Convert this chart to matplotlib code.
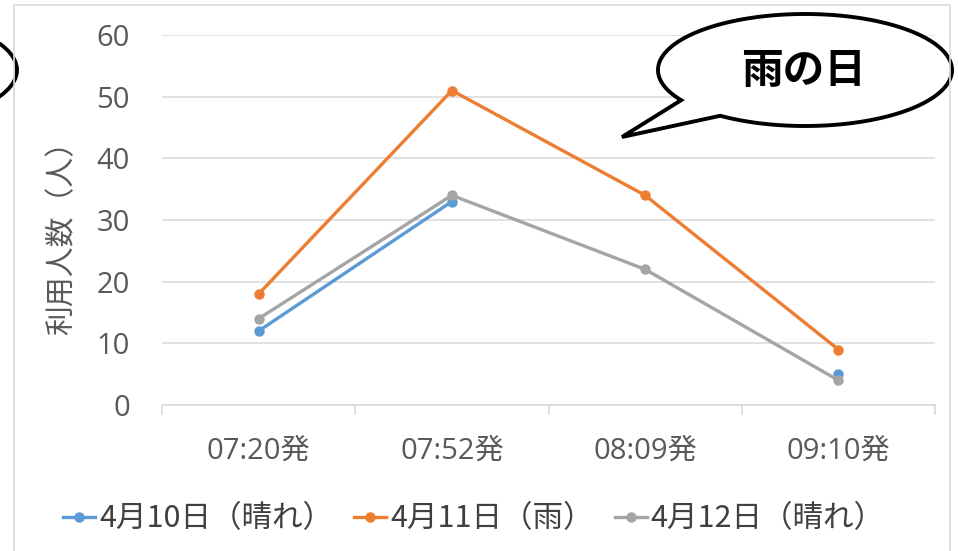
import numpy as np
import matplotlib
matplotlib.use("Agg")
import matplotlib.pyplot as plt
from matplotlib.patches import Polygon, Ellipse
from matplotlib.lines import Line2D

plt.rcParams["font.family"] = ["Open Sans", "Noto Sans CJK JP", "DejaVu Sans"]

TEXT_GRAY = "#595959"
GRID = "#d9d9d9"

categories = ["07:20発", "07:52発", "08:09発", "09:10発"]
series_names = ["4月10日（晴れ）", "4月11日（雨）", "4月12日（晴れ）"]
apr10 = [12, 33, np.nan, 5]   # no value at 08:09
apr11 = [18, 51, 34, 9]
apr12 = [14, 34, 22, 4]
colors = ["#5b9bd5", "#ed7d31", "#a5a5a5"]
y_ticks = [0, 10, 20, 30, 40, 50, 60]

fig = plt.figure(figsize=(9.58, 5.51), dpi=100, facecolor="white")
ax = fig.add_axes([162 / 958, 1 - 405 / 551, (935 - 162) / 958, (405 - 35) / 551])

x = np.arange(len(categories))
for vals, name, c in zip([apr10, apr11, apr12], series_names, colors):
    ax.plot(x, vals, color=c, lw=2.4, marker="o", markersize=6.5,
            label=name, solid_capstyle="round", zorder=3)

ax.set_xlim(-0.5, len(categories) - 0.5)
ax.set_ylim(0, 60)
ax.set_yticks(y_ticks)
ax.set_xticks(x)
ax.set_xticklabels(categories)
ax.set_xticks(np.arange(-0.5, len(categories), 1.0), minor=True)
ax.tick_params(axis="x", which="major", length=0, pad=23, labelsize=21, labelcolor=TEXT_GRAY)
ax.tick_params(axis="x", which="minor", length=7, width=1.2, color=GRID, direction="out")
ax.tick_params(axis="y", length=0, pad=23, labelsize=21, labelcolor=TEXT_GRAY)
ax.yaxis.grid(True, color=GRID, lw=1.1, zorder=0)
ax.set_axisbelow(True)
for s in ["left", "right", "top"]:
    ax.spines[s].set_visible(False)
ax.spines["bottom"].set_color(GRID)
ax.spines["bottom"].set_linewidth(1.2)

fig.text(62 / 958, 1 - 230 / 551, "利用人数（人）", rotation=90, ha="center", va="center",
         fontsize=21.5, color=TEXT_GRAY, family=["Noto Sans CJK JP", "DejaVu Sans"])

handles = [Line2D([], [], color=c, lw=2.4, marker="o", markersize=6.5) for c in colors]
fig.legend(handles, series_names, loc="center", bbox_to_anchor=(474 / 958, 1 - 519 / 551),
           ncol=3, frameon=False, handlelength=1.05, handletextpad=0.12,
           columnspacing=0.7, labelcolor="#404040",
           prop={"family": ["Noto Sans CJK JP", "DejaVu Sans"], "size": 22})

# overlay in pixel coordinates for frame and callout
ov = fig.add_axes([0, 0, 1, 1], zorder=10)
ov.set_xlim(0, 958)
ov.set_ylim(551, 0)
ov.axis("off")
ov.patch.set_visible(False)

ov.plot([14, 14, 950, 950], [551, 5, 5, 551], color=GRID, lw=1.2)

# left partial bubble
ov.add_patch(Ellipse((-130, 70), 294, 112, facecolor="white", edgecolor="black", lw=2.8))

# speech bubble "雨の日"
cx, cy, a, b = 805, 70, 147, 56
t1, t2 = np.deg2rad(147.4), np.deg2rad(125.2 + 360)
t = np.linspace(t1, t2, 300)
pts = np.column_stack([cx + a * np.cos(t), cy + b * np.sin(t)])
pts = np.vstack([pts, [622, 137]])
ov.add_patch(Polygon(pts, closed=True, facecolor="white", edgecolor="black", lw=2.8,
                     joinstyle="miter"))
ov.text(803, 71, "雨の日", ha="center", va="center", fontsize=30, fontweight="bold",
        color="black", family=["Noto Sans CJK JP", "DejaVu Sans"])

fig.savefig("out.png", dpi=100, facecolor="white")
